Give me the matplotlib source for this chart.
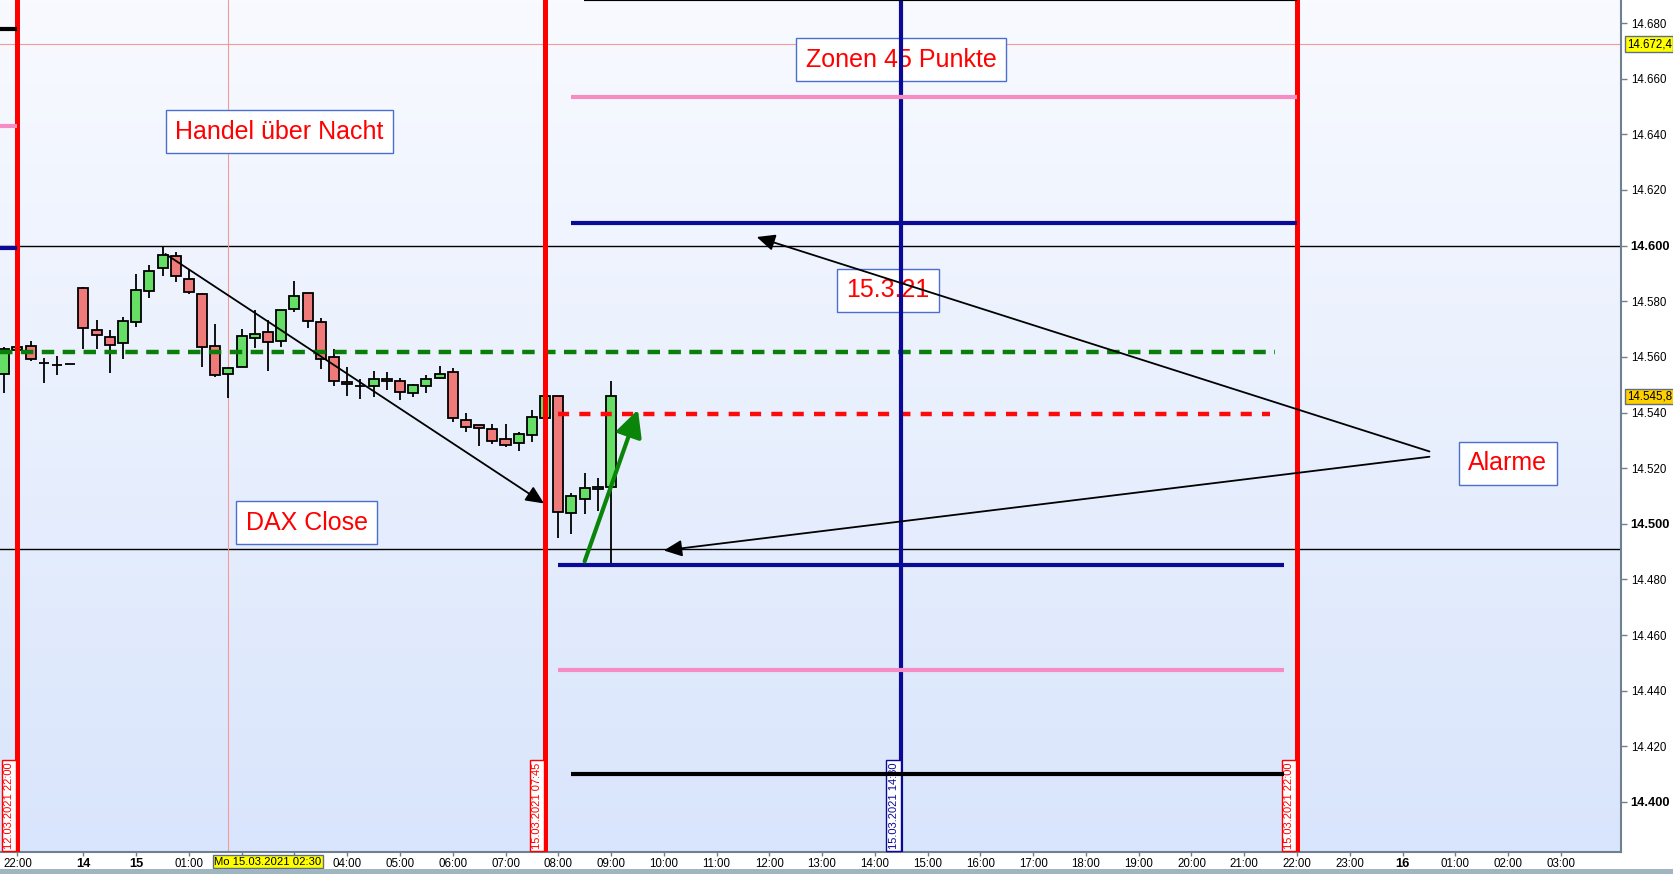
import numpy as np
import matplotlib.pyplot as plt
from matplotlib.colors import LinearSegmentedColormap
from matplotlib.transforms import blended_transform_factory
from matplotlib.patches import Rectangle

plt.rcParams['font.family'] = ['Liberation Sans', 'DejaVu Sans']

# 15-Minuten-Kerzen DAX, Fr 12.03.2021 21:45 bis Mo 15.03.2021 09:00
# x-Achse: Stunden relativ zu Mo 00:00 (Wochenende ausgeblendet)
first_bar = -2.5
bar_step = 0.25
opens = [14553.7, 14562.3, 14563.8, 14557.7, 14557.0, 14557.3, 14584.6, 14569.5, 14567.0, 14564.9,
         14572.4, 14583.6, 14591.8, 14596.1, 14587.9, 14582.5, 14563.8, 14553.7, 14556.2, 14566.7,
         14568.8, 14565.6, 14577.1, 14582.8, 14572.4, 14559.8, 14550.9, 14549.6, 14549.6, 14551.2,
         14551.2, 14546.9, 14549.4, 14552.3, 14554.4, 14537.2, 14535.4, 14533.9, 14530.4, 14528.9,
         14531.8, 14537.9, 14545.8, 14503.8, 14508.8, 14512.4, 14513.1]
highs = [14563.4, 14564.0, 14565.7, 14559.6, 14560.3, 14557.3, 14585.0, 14573.2, 14569.6, 14574.2,
         14589.7, 14593.0, 14599.4, 14597.6, 14591.2, 14582.8, 14571.7, 14555.9, 14570.0, 14576.8,
         14573.2, 14577.0, 14587.3, 14582.8, 14573.9, 14562.8, 14556.4, 14551.9, 14554.9, 14554.5,
         14552.5, 14550.1, 14553.4, 14556.7, 14556.0, 14539.8, 14535.4, 14536.0, 14536.0, 14532.9,
         14540.8, 14545.8, 14545.8, 14511.0, 14518.1, 14516.3, 14551.3]
lows = [14546.9, 14562.0, 14558.6, 14550.7, 14553.6, 14557.3, 14563.0, 14563.0, 14554.1, 14559.1,
        14570.8, 14581.3, 14589.2, 14587.0, 14582.5, 14556.5, 14552.6, 14545.1, 14556.2, 14563.3,
        14555.0, 14563.6, 14576.2, 14570.5, 14555.7, 14549.6, 14546.0, 14545.0, 14545.7, 14548.2,
        14544.6, 14545.7, 14547.1, 14551.9, 14536.7, 14533.1, 14528.0, 14528.8, 14527.7, 14526.3,
        14529.5, 14537.9, 14494.8, 14496.2, 14503.4, 14504.7, 14486.0]
closes = [14562.8, 14563.4, 14559.1, 14557.7, 14557.0, 14557.3, 14570.3, 14567.7, 14564.2, 14572.8,
          14583.9, 14590.8, 14596.5, 14589.0, 14583.2, 14563.4, 14553.4, 14555.9, 14567.4, 14568.1,
          14565.2, 14576.7, 14581.8, 14572.8, 14559.1, 14551.2, 14550.1, 14549.6, 14551.9, 14551.9,
          14547.3, 14549.8, 14551.9, 14553.7, 14537.9, 14534.7, 14534.3, 14529.6, 14528.2, 14532.2,
          14538.3, 14545.8, 14504.1, 14509.9, 14512.8, 14513.1, 14545.8]

# Zonen (45 Punkte) fuer den 15.03.
zone_levels = [14688.6, 14653.4, 14608.1, 14485.0, 14447.4, 14410.2]
zone_start = [8.48, 8.24, 8.24, 8.0, 8.0, 8.24]
zone_end = [22.0, 22.0, 22.0, 21.75, 21.75, 21.75]
zone_colors = ['black', '#f78bc4', '#0a0a96', '#0a0a96', '#f78bc4', 'black']
# Reste der Zonen vom Vortag (links der ersten roten Linie)
old_levels = [14677.9, 14643.0, 14599.0]
old_colors = ['black', '#f78bc4', '#0a0a96']

dax_close = 14561.7
alarm_level = 14539.5
support_lines = [14600.0, 14491.0]

red_lines = [-2.25, 7.75, 22.0]
red_line_labels = ['12.03.2021 22:00', '15.03.2021 07:45', '15.03.2021 22:00']
blue_line = 14.5
blue_line_label = '15.03.2021 14:30'

cross_x = 1.75
cross_y = 14672.4
last_price = 14545.8

tick_pos = [-2.25, -1, 0, 1, 2, 3, 4, 5, 6, 7, 8, 9, 10, 11, 12, 13, 14, 15, 16, 17, 18, 19,
            20, 21, 22, 23, 24, 25, 26, 27]
tick_labels = ['22:00', '14', '15', '01:00', '', '', '04:00', '05:00', '06:00', '07:00', '08:00',
               '09:00', '10:00', '11:00', '12:00', '13:00', '14:00', '15:00', '16:00', '17:00',
               '18:00', '19:00', '20:00', '21:00', '22:00', '23:00', '16', '01:00', '02:00', '03:00']
day_labels = ['14', '15', '16']
price_ticks = list(range(14400, 14681, 20))

notes = ['Handel über Nacht', 'Zonen 45 Punkte', '15.3.21', 'DAX Close', 'Alarme']
note_x = [2.72, 14.5, 14.25, 3.23, 25.99]
note_y = [14641.0, 14666.9, 14583.9, 14500.4, 14521.8]

# Pfeile: (Start x, Start y, Ende x, Ende y)
black_arrows = [(0.555, 14597.0, 7.73, 14507.3),
                (24.51, 14526.0, 11.76, 14603.1),
                (24.51, 14524.1, 10.0, 14490.4)]
green_arrow = (8.5, 14486.5, 9.51, 14541.0)

xmin, xmax = -2.58, 28.14
ymin, ymax = 14382.0, 14688.3

fig = plt.figure(figsize=(16.73, 8.74), dpi=100)
fig.patch.set_facecolor('white')
ax = fig.add_axes([0, 22 / 874, 1621 / 1673, 852 / 874])
fig.patches.append(Rectangle((0, 0), 1, 5 / 874, transform=fig.transFigure,
                             facecolor='#9fb5c0', edgecolor='none'))

# Hintergrund-Verlauf
bg = LinearSegmentedColormap.from_list('bg', ['#f8faff', '#d9e5fc'])
ax.imshow(np.linspace(0, 1, 256).reshape(-1, 1), cmap=bg, aspect='auto', origin='upper',
          extent=[xmin, xmax, ymin, ymax], zorder=0)

for lvl in support_lines:
    ax.axhline(lvl, color='black', lw=1.0, zorder=2)
ax.axhline(cross_y, color='#f59a9a', lw=0.8, zorder=2)
ax.axvline(cross_x, color='#f59a9a', lw=0.8, zorder=2)

# Kerzen
xs = first_bar + bar_step * np.arange(len(opens))
o = np.array(opens)
c = np.array(closes)
colors = np.where(c >= o, '#66de66', '#ef7a7a')
ax.vlines(xs, lows, highs, color='black', lw=1.3, zorder=3)
ax.bar(xs, np.abs(c - o), bottom=np.minimum(o, c), width=0.19, color=colors,
       edgecolor='black', linewidth=1.3, zorder=4)

ax.hlines(dax_close, xmin, 21.58, color='#0a7d0a', lw=3.2, linestyles=(0, (2.8, 1.9)), zorder=5)
ax.hlines(alarm_level, 8.0, 21.48, color='#ff0a0a', lw=3.2, linestyles=(0, (2.5, 2.3)), zorder=5)

# Textfelder
for txt, x, y in zip(notes, note_x, note_y):
    ax.text(x, y, txt, color='#ff0000', fontsize=18, ha='center', va='center', zorder=6,
            bbox=dict(boxstyle='square,pad=0.38', fc='white', ec='#4a6fd0', lw=1.0))

# vertikale Linien
for x in red_lines:
    ax.axvline(x, color='#ff0000', lw=3.6, zorder=7)
ax.axvline(blue_line, color='#0a0a96', lw=3.0, zorder=7)

tb = blended_transform_factory(ax.transData, ax.transAxes)
for x, lab in zip(red_lines, red_line_labels):
    ax.text(x - 0.06, 0.004, lab, rotation=90, ha='right', va='bottom', fontsize=8,
            color='#ff0000', transform=tb, zorder=8,
            bbox=dict(boxstyle='square,pad=0.2', fc='white', ec='#ff0000', lw=1.0))
ax.text(blue_line - 0.05, 0.004, blue_line_label, rotation=90, ha='right', va='bottom',
        fontsize=8, color='#0a0a96', transform=tb, zorder=8,
        bbox=dict(boxstyle='square,pad=0.2', fc='white', ec='#0a0a96', lw=1.0))

# Zonen
for lvl, x0, x1, col in zip(zone_levels, zone_start, zone_end, zone_colors):
    ax.hlines(lvl, x0, x1, color=col, lw=3.0, zorder=9)
for lvl, col in zip(old_levels, old_colors):
    ax.hlines(lvl, xmin, red_lines[0], color=col, lw=3.0, zorder=9)

# Pfeile
for x0, y0, x1, y1 in black_arrows:
    ax.annotate('', xy=(x1, y1), xytext=(x0, y0), zorder=10,
                arrowprops=dict(arrowstyle='-|>,head_length=0.55,head_width=0.25',
                                mutation_scale=20, color='black', lw=1.3,
                                shrinkA=0, shrinkB=0))
gx0, gy0, gx1, gy1 = green_arrow
ax.annotate('', xy=(gx1, gy1), xytext=(gx0, gy0), zorder=10,
            arrowprops=dict(arrowstyle='-|>,head_length=0.8,head_width=0.4',
                            mutation_scale=20, color='#0a850a', lw=3.0,
                            shrinkA=0, shrinkB=0))

ax.set_xlim(xmin, xmax)
ax.set_ylim(ymin, ymax)

# Achsen
for side in ['left', 'top']:
    ax.spines[side].set_visible(False)
ax.spines['right'].set_color('#6f8090')
ax.spines['right'].set_linewidth(1.5)
ax.spines['bottom'].set_color('#6f8090')
ax.spines['bottom'].set_linewidth(1.5)

ax.yaxis.tick_right()
ax.set_yticks(price_ticks)
ax.set_yticklabels([f'{p:,}'.replace(',', '.') for p in price_ticks])
ax.tick_params(axis='y', direction='out', length=4, width=1, colors='#6f8090',
               labelcolor='black', labelsize=8.3, pad=3)
for lab, p in zip(ax.get_yticklabels(), price_ticks):
    if p % 100 == 0:
        lab.set_fontweight('bold')
        lab.set_fontsize(9.3)

ax.set_xticks(tick_pos)
ax.set_xticklabels(tick_labels)
ax.tick_params(axis='x', direction='out', length=3, width=1, colors='#6f8090',
               labelcolor='black', labelsize=8.3, pad=1.5)
for lab in ax.get_xticklabels():
    if lab.get_text() in day_labels:
        lab.set_fontweight('bold')
        lab.set_fontsize(9.3)

# Preismarken rechts
ty = blended_transform_factory(ax.transAxes, ax.transData)
ax.text(1.0035, cross_y, f'{cross_y:,.1f}'.replace(',', 'X').replace('.', ',').replace('X', '.'),
        transform=ty, ha='left', va='center', fontsize=8.3, clip_on=False,
        bbox=dict(boxstyle='square,pad=0.15', fc='#ffff00', ec='#607080', lw=1.0))
ax.text(1.0035, last_price, f'{last_price:,.1f}'.replace(',', 'X').replace('.', ',').replace('X', '.'),
        transform=ty, ha='left', va='center', fontsize=8.3, clip_on=False,
        bbox=dict(boxstyle='square,pad=0.15', fc='#ffd000', ec='#607080', lw=1.0))

# Fadenkreuz-Datum unten
ax.text(2.5, -0.0115, 'Mo 15.03.2021 02:30', transform=tb, ha='center', va='center',
        fontsize=8.1, clip_on=False, zorder=12,
        bbox=dict(boxstyle='square,pad=0.15', fc='#ffff00', ec='#607080', lw=1.0))

fig.savefig('out.png', dpi=100)
